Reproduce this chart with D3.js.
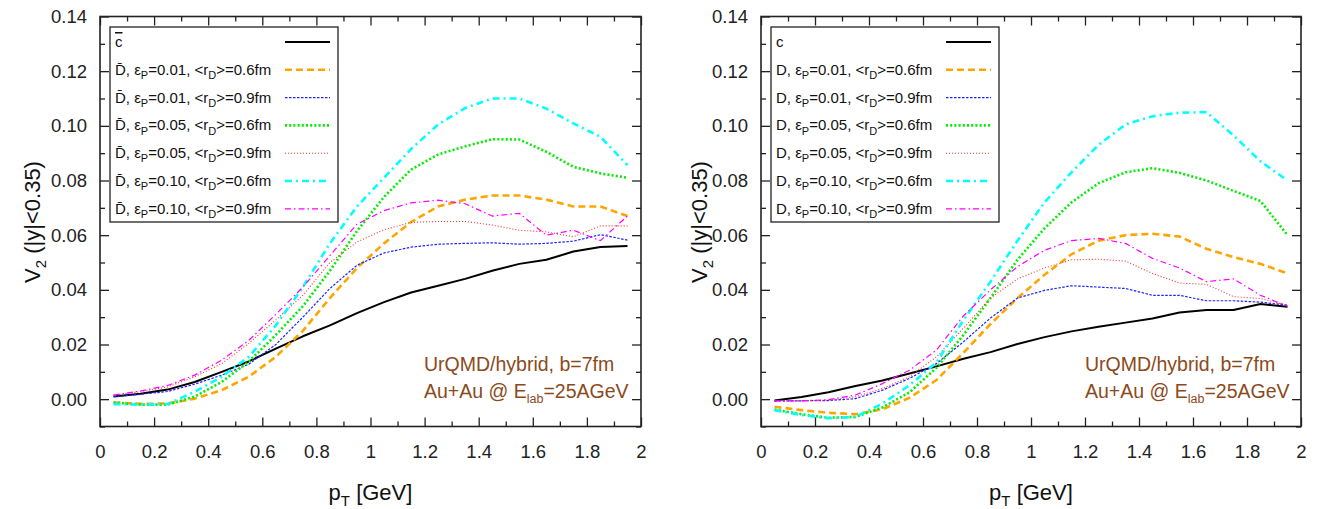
<!DOCTYPE html>
<html><head><meta charset="utf-8">
<script src="https://cdn.jsdelivr.net/npm/d3@7"></script>
<style>
body{margin:0;background:#fff}
svg{display:block}
text{font-family:"Liberation Sans",Arial,Helvetica,sans-serif}
</style>
</head><body>
<svg id="chart" width="1320" height="509"></svg>
<script>
// ---------- data ----------
const pT = [0.05,0.15,0.25,0.35,0.45,0.55,0.65,0.75,0.85,0.95,1.05,1.15,1.25,1.35,1.45,1.55,1.65,1.75,1.85,1.95];

// left panel: anti-charm / anti-D
const cbar          = [0.001,0.002,0.0035,0.0063,0.010,0.0138,0.0185,0.023,0.027,0.0315,0.0355,0.039,0.0415,0.044,0.047,0.0495,0.051,0.054,0.0557,0.056];
const Dbar_e001_r06 = [-0.0012,-0.0017,-0.0016,0.0002,0.0033,0.0082,0.0155,0.025,0.037,0.048,0.057,0.0648,0.0705,0.073,0.0745,0.0745,0.073,0.0705,0.0705,0.067];
const Dbar_e001_r09 = [0.0009,0.0018,0.0028,0.0055,0.0088,0.0128,0.020,0.030,0.0405,0.049,0.0535,0.0556,0.0567,0.057,0.0572,0.0567,0.057,0.0578,0.0602,0.0582];
const Dbar_e005_r06 = [-0.0012,-0.002,-0.002,0.0009,0.0063,0.0137,0.0235,0.034,0.047,0.0615,0.074,0.084,0.0895,0.0925,0.0951,0.095,0.0905,0.085,0.0826,0.081];
const Dbar_e005_r09 = [0.0015,0.0027,0.0045,0.0082,0.013,0.0204,0.029,0.038,0.050,0.0575,0.062,0.0647,0.065,0.065,0.0637,0.0618,0.0612,0.0594,0.0634,0.0634];
const Dbar_e010_r06 = [-0.0018,-0.002,-0.0018,0.0027,0.0082,0.0155,0.027,0.041,0.057,0.0705,0.081,0.0915,0.1005,0.1065,0.110,0.110,0.1063,0.1009,0.096,0.0856];
const Dbar_e010_r09 = [0.0015,0.003,0.005,0.0088,0.0143,0.0215,0.031,0.041,0.0525,0.064,0.069,0.0718,0.0728,0.0715,0.067,0.068,0.060,0.0618,0.058,0.067];

// right panel: charm / D
const c_quark    = [-0.0005,0.0008,0.0025,0.0048,0.0068,0.0094,0.012,0.0148,0.0172,0.0202,0.0227,0.0248,0.0265,0.028,0.0295,0.0317,0.0326,0.0326,0.0348,0.0338];
const D_e001_r06 = [-0.0028,-0.004,-0.005,-0.0055,-0.0037,0.0005,0.007,0.017,0.0275,0.037,0.0455,0.053,0.058,0.060,0.0605,0.0595,0.055,0.052,0.0495,0.046];
const D_e001_r09 = [-0.0006,-0.0006,-0.0005,0.0002,0.0033,0.0076,0.013,0.021,0.0297,0.037,0.0398,0.0415,0.041,0.0405,0.038,0.038,0.036,0.036,0.0355,0.0344];
const D_e005_r06 = [-0.0038,-0.0055,-0.0068,-0.0065,-0.003,0.0025,0.0115,0.0235,0.037,0.051,0.0625,0.072,0.079,0.083,0.0845,0.0828,0.080,0.0762,0.0725,0.060];
const D_e005_r09 = [-0.0006,-0.0006,-0.0004,0.0009,0.0039,0.0082,0.0155,0.026,0.037,0.044,0.048,0.051,0.0512,0.0505,0.046,0.0425,0.042,0.0375,0.0368,0.0344];
const D_e010_r06 = [-0.004,-0.0058,-0.007,-0.0065,-0.0016,0.0051,0.0135,0.029,0.043,0.058,0.072,0.083,0.093,0.1005,0.1035,0.1048,0.105,0.0965,0.087,0.080];
const D_e010_r09 = [-0.0006,-0.0006,-0.0002,0.0015,0.0057,0.0106,0.018,0.0305,0.040,0.0485,0.0545,0.058,0.0588,0.057,0.0515,0.048,0.043,0.044,0.038,0.034];

const epsLabels = ["0.01","0.01","0.05","0.05","0.10","0.10"];
const rLabels   = ["0.6","0.9","0.6","0.9","0.6","0.9"];

const yTickValues = [0.00,0.02,0.04,0.06,0.08,0.10,0.12,0.14];
const yTickLabels = ["0.00","0.02","0.04","0.06","0.08","0.10","0.12","0.14"];
const yMinorValues = [-0.01,0.01,0.03,0.05,0.07,0.09,0.11,0.13];
const xTickValues = [0,0.2,0.4,0.6,0.8,1.0,1.2,1.4,1.6,1.8,2.0];
const xTickLabels = ["0","0.2","0.4","0.6","0.8","1","1.2","1.4","1.6","1.8","2"];
const xMinorValues = [0.1,0.3,0.5,0.7,0.9,1.1,1.3,1.5,1.7,1.9];

// ---------- styles ----------
const styles = [
  {color:"#000000", width:2,   dash:null},
  {color:"#FFA500", width:2.6, dash:"7,4"},
  {color:"#2020FF", width:1.2, dash:"2.5,1.5"},
  {color:"#00EE00", width:2.6, dash:"2,2.2"},
  {color:"#FF3030", width:1.1, dash:"1,2"},
  {color:"#00FFFF", width:2.6, dash:"7,4,2,4"},
  {color:"#FF00FF", width:1.2, dash:"6,3,1.5,3"}
];

const svg = d3.select("#chart");
const yRange = [426.5, 16.5];

function subText(sel, parts, size, subSize) {
  let prevSub = false;
  parts.forEach(([t, sub]) => {
    const ts = sel.append("tspan").text(t).attr("font-size", sub ? subSize : size);
    const shift = size * 0.28;
    if (sub && !prevSub) ts.attr("dy", shift);
    if (!sub && prevSub) ts.attr("dy", -shift);
    prevSub = sub;
  });
}

function drawPanel(p) {
  const g = svg.append("g");
  const x = d3.scaleLinear().domain([0, 2]).range([p.x0, p.x1]);
  const y = d3.scaleLinear().domain([-0.01, 0.14]).range(yRange);

  const line = d3.line().x((d, i) => x(pT[i])).y(d => y(d));
  p.series.forEach((s, k) => {
    const st = styles[k];
    g.append("path").attr("d", line(s)).attr("fill", "none")
      .attr("stroke", st.color).attr("stroke-width", st.width)
      .attr("stroke-dasharray", st.dash).attr("stroke-linejoin", "round");
  });

  const tickCol = "#222";
  const mk = (axis, tx, ty) => {
    const a = g.append("g").attr("transform", `translate(${tx},${ty})`).call(axis);
    a.select(".domain").remove();
    a.selectAll("line").attr("stroke", tickCol).attr("stroke-width", 1.3);
    a.selectAll("text").attr("font-size", 18.5).attr("fill", "#222")
      .attr("font-family", '"Liberation Sans",Arial,Helvetica,sans-serif');
    return a;
  };
  mk(d3.axisBottom(x).tickValues(xTickValues).tickFormat((d, i) => xTickLabels[i]).tickSize(-9).tickPadding(18), 0, yRange[0]);
  mk(d3.axisBottom(x).tickValues(xMinorValues).tickFormat("").tickSize(-5), 0, yRange[0]);
  mk(d3.axisTop(x).tickValues(xTickValues).tickFormat("").tickSize(-9), 0, yRange[1]);
  mk(d3.axisTop(x).tickValues(xMinorValues).tickFormat("").tickSize(-5), 0, yRange[1]);
  mk(d3.axisLeft(y).tickValues(yTickValues).tickFormat((d, i) => yTickLabels[i]).tickSize(-9).tickPadding(13), p.x0, 0);
  mk(d3.axisLeft(y).tickValues(yMinorValues).tickFormat("").tickSize(-5), p.x0, 0);
  mk(d3.axisRight(y).tickValues(yTickValues).tickFormat("").tickSize(-9), p.x1, 0);
  mk(d3.axisRight(y).tickValues(yMinorValues).tickFormat("").tickSize(-5), p.x1, 0);

  g.append("rect").attr("x", p.x0).attr("y", yRange[1]).attr("width", p.x1 - p.x0)
    .attr("height", yRange[0] - yRange[1]).attr("fill", "none").attr("stroke", "#222").attr("stroke-width", 1.6);

  // legend
  const lx = p.x0 + 10, ly = 27, lw = 228, lh = 195;
  g.append("rect").attr("x", lx).attr("y", ly).attr("width", lw).attr("height", lh)
    .attr("fill", "#fff").attr("stroke", "#222").attr("stroke-width", 1.3);
  const fs = 15, sfs = 11;
  p.series.forEach((s, k) => {
    const cy = ly + 15 + k * 27.8;
    const st = styles[k];
    g.append("line").attr("x1", lx + 175).attr("x2", lx + 220).attr("y1", cy).attr("y2", cy)
      .attr("stroke", st.color).attr("stroke-width", st.width).attr("stroke-dasharray", st.dash);
    const t = g.append("text").attr("x", lx + 5).attr("y", cy + 5).attr("font-size", fs).attr("fill", "#111");
    if (k === 0) {
      const ts = t.append("tspan").text(p.quark);
      if (p.bar) ts.attr("text-decoration", "overline");
    } else {
      subText(t, [[p.meson + ", \u03B5", false], ["P", true], ["=" + epsLabels[k-1] + ", <r", false], ["D", true], [">=" + rLabels[k-1] + "fm", false]], fs, sfs);
    }
  });

  // annotation
  const ax = p.x0 + 324;
  const a1 = g.append("text").attr("x", ax).attr("y", 371).attr("font-size", 19.5).attr("fill", "#8B4A1C");
  a1.text("UrQMD/hybrid, b=7fm");
  const a2 = g.append("text").attr("x", ax).attr("y", 398).attr("font-size", 19.5).attr("fill", "#8B4A1C");
  subText(a2, [["Au+Au @ E", false], ["lab", true], ["=25AGeV", false]], 19.5, 12.5);

  // axis titles
  const yt = g.append("text").attr("transform", `translate(${p.ytx},222) rotate(-90)`)
    .attr("text-anchor", "middle").attr("font-size", 22).attr("fill", "#111");
  subText(yt, [["V", false], ["2", true], [" (|y|<0.35)", false]], 22, 15);
  const xt = g.append("text").attr("x", (p.x0 + p.x1) / 2).attr("y", 500)
    .attr("text-anchor", "middle").attr("font-size", 22).attr("fill", "#111");
  subText(xt, [["p", false], ["T", true], [" [GeV]", false]], 22, 15);
}

drawPanel({x0: 100, x1: 641, ytx: 40, quark: "c", bar: true, meson: "D\u0304",
  series: [cbar, Dbar_e001_r06, Dbar_e001_r09, Dbar_e005_r06, Dbar_e005_r09, Dbar_e010_r06, Dbar_e010_r09]});
drawPanel({x0: 761, x1: 1301, ytx: 707, quark: "c", bar: false, meson: "D",
  series: [c_quark, D_e001_r06, D_e001_r09, D_e005_r06, D_e005_r09, D_e010_r06, D_e010_r09]});
</script>
</body></html>
